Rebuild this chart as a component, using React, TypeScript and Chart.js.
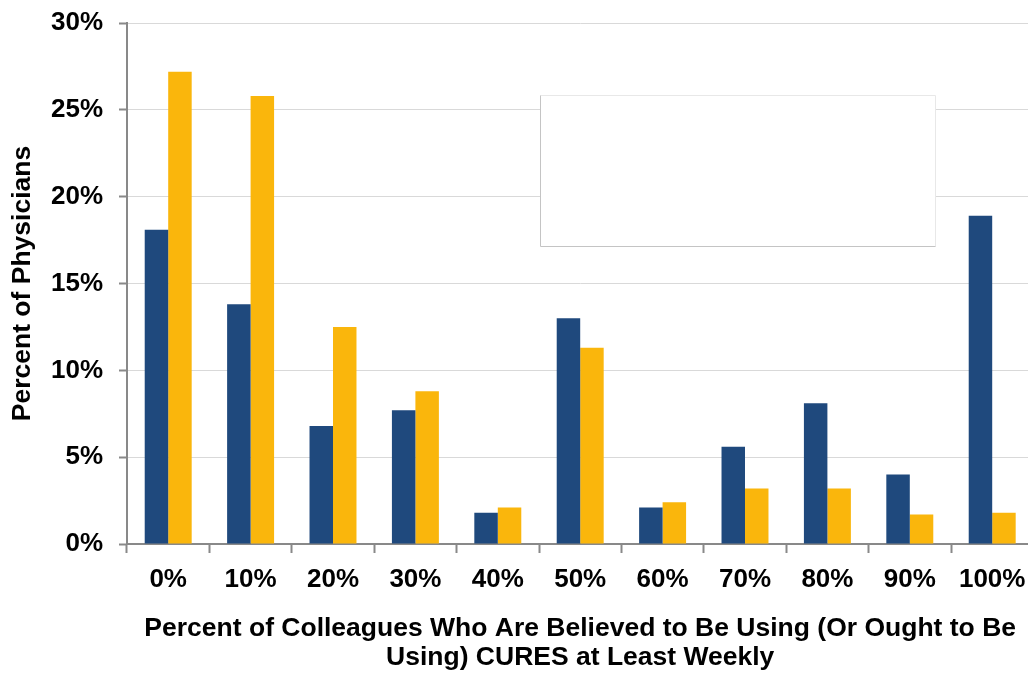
import React, { useEffect, useRef } from "react";
import { Chart, registerables } from "chart.js";

Chart.register(...registerables);

const categories = ["0%", "10%", "20%", "30%", "40%", "50%", "60%", "70%", "80%", "90%", "100%"];
const seriesBlue = [18.1, 13.8, 6.8, 7.7, 1.8, 13.0, 2.1, 5.6, 8.1, 4.0, 18.9];
const seriesGold = [27.2, 25.8, 12.5, 8.8, 2.1, 11.3, 2.4, 3.2, 3.2, 1.7, 1.8];
const yTickValues = [0, 5, 10, 15, 20, 25, 30];
const yTitle = "Percent of Physicians";
const xTitle = [
  "Percent of Colleagues Who Are Believed to Be Using (Or Ought to Be",
  "Using) CURES at Least Weekly",
];

const FONT = "'Liberation Sans', Arial, Helvetica, sans-serif";
const AXIS_GRAY = "#898989";
const GRID_GRAY = "#d9d9d9";

// Empty legend frame drawn over the plot area
const legendFramePlugin = {
  id: "legendFrame",
  afterDatasetsDraw(chart: any) {
    const { ctx, chartArea } = chart;
    const w = chartArea.right - chartArea.left;
    const h = chartArea.bottom - chartArea.top;
    const x = Math.round(chartArea.left + w * 0.4557);
    const y = Math.round(chartArea.top + h * 0.138);
    const bw = Math.round(w * 0.437);
    const bh = Math.round(h * 0.292);
    ctx.save();
    ctx.fillStyle = "#ffffff";
    ctx.fillRect(x, y, bw, bh);
    ctx.lineWidth = 1;
    ctx.strokeStyle = "#e8e8e8";
    ctx.beginPath();
    ctx.moveTo(x + 0.5, y + 0.5);
    ctx.lineTo(x + bw - 0.5, y + 0.5);
    ctx.lineTo(x + bw - 0.5, y + bh - 0.5);
    ctx.stroke();
    ctx.strokeStyle = "#c4c4c4";
    ctx.beginPath();
    ctx.moveTo(x + 0.5, y + 0.5);
    ctx.lineTo(x + 0.5, y + bh - 0.5);
    ctx.lineTo(x + bw - 0.5, y + bh - 0.5);
    ctx.stroke();
    ctx.restore();
  },
};

export default function App() {
  const canvasRef = useRef<HTMLCanvasElement | null>(null);

  useEffect(() => {
    const canvas = canvasRef.current;
    if (!canvas) return;
    const chart = new Chart(canvas, {
      type: "bar",
      data: {
        labels: categories,
        datasets: [
          {
            label: "Believed to be using",
            data: seriesBlue,
            backgroundColor: "#1f497d",
            barPercentage: 1,
            categoryPercentage: 0.57,
          },
          {
            label: "Ought to be using",
            data: seriesGold,
            backgroundColor: "#fab60c",
            barPercentage: 1,
            categoryPercentage: 0.57,
          },
        ],
      },
      options: {
        responsive: false,
        animation: false,
        devicePixelRatio: 1,
        layout: { padding: { top: 23, right: 6.6, bottom: 0, left: 0 } },
        plugins: {
          legend: { display: false },
          tooltip: { enabled: false },
        },
        scales: {
          x: {
            offset: true,
            border: { display: true, color: AXIS_GRAY, width: 2 },
            grid: {
              offset: true,
              drawOnChartArea: false,
              drawTicks: true,
              tickLength: 9,
              tickColor: AXIS_GRAY,
              tickWidth: 2,
            },
            ticks: {
              color: "#000",
              padding: 11,
              maxRotation: 0,
              font: { family: FONT, size: 26, weight: "bold" },
            },
            title: {
              display: true,
              text: xTitle,
              color: "#000",
              padding: { top: 0, bottom: 1 },
              font: { family: FONT, size: 26.5, weight: "bold", lineHeight: 1.1 },
            },
            afterFit(scale: any) {
              scale.height = 129;
              scale.paddingLeft = 0;
              scale.paddingRight = 0;
            },
          },
          y: {
            min: 0,
            max: 30,
            border: { display: true, color: AXIS_GRAY, width: 2 },
            grid: {
              color: GRID_GRAY,
              lineWidth: 1,
              drawTicks: true,
              tickLength: 8,
              tickColor: AXIS_GRAY,
              tickWidth: 2,
            },
            afterBuildTicks(scale: any) {
              scale.ticks = yTickValues.map((v) => ({ value: v }));
            },
            ticks: {
              color: "#000",
              padding: 16,
              font: { family: FONT, size: 26, weight: "bold" },
              callback: (v: any) => `${v}%`,
            },
            title: {
              display: true,
              text: yTitle,
              color: "#000",
              padding: { top: 8, bottom: 0 },
              font: { family: FONT, size: 26.5, weight: "bold", lineHeight: 1.1 },
            },
            afterFit(scale: any) {
              scale.width = 127;
              scale.paddingTop = 0;
              scale.paddingBottom = 0;
            },
          },
        },
      },
      plugins: [legendFramePlugin],
    });
    return () => chart.destroy();
  }, []);

  return (
    <div
      style={{
        position: "fixed",
        left: 0,
        top: 0,
        width: 1028,
        height: 673,
        overflow: "hidden",
        background: "#ffffff",
      }}
    >
      <canvas ref={canvasRef} width={1040} height={673} style={{ display: "block" }} />
    </div>
  );
}
